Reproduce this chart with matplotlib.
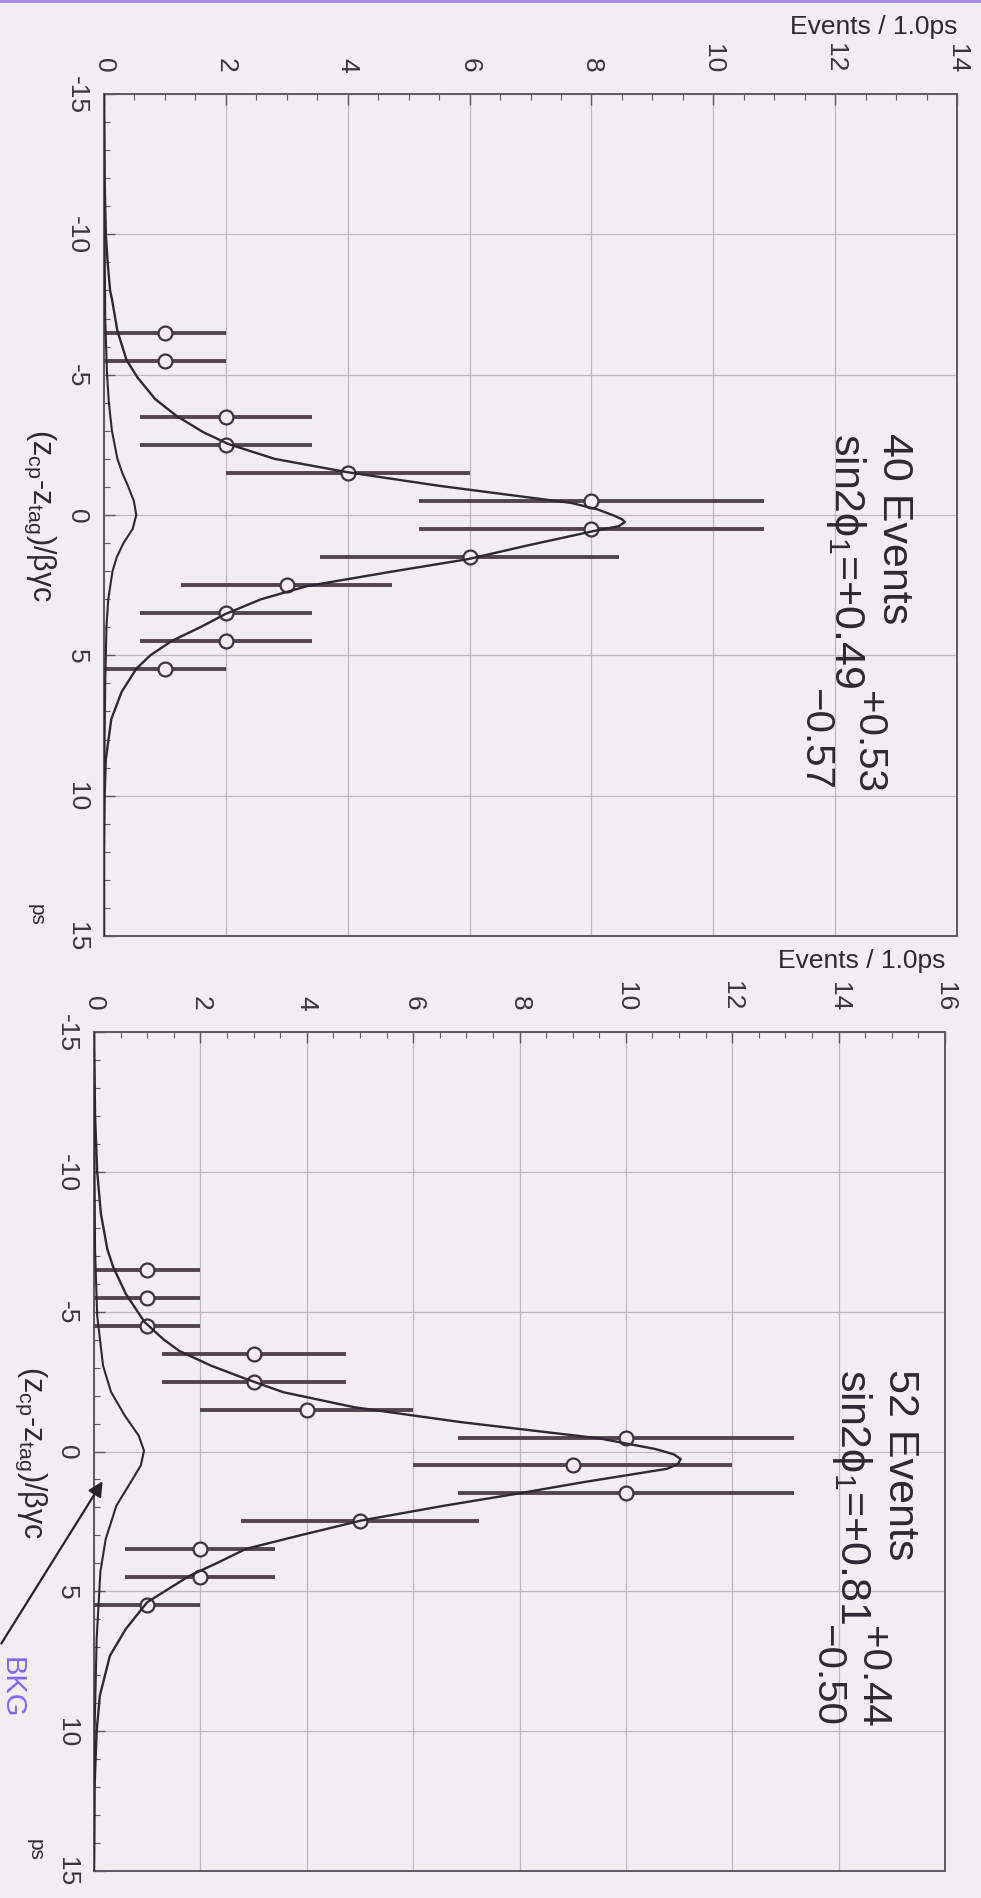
import matplotlib
matplotlib.use('Agg')
import matplotlib.pyplot as plt
from matplotlib.ticker import MultipleLocator

plt.rcParams['font.family'] = ['Liberation Sans', 'DejaVu Sans']
plt.rcParams['mathtext.fontset'] = 'custom'
plt.rcParams['mathtext.rm'] = 'Liberation Sans'
plt.rcParams['mathtext.it'] = 'Liberation Sans:italic'
plt.rcParams['mathtext.bf'] = 'Liberation Sans:bold'
plt.rcParams['axes.unicode_minus'] = False

# binned data, 1 ps bins
bins_40 = [-6.5, -5.5, -3.5, -2.5, -1.5, -0.5, 0.5, 1.5, 2.5, 3.5, 4.5, 5.5]
counts_40 = [1, 1, 2, 2, 4, 8, 8, 6, 3, 2, 2, 1]
errs_40 = [1.0, 1.0, 1.41, 1.41, 2.0, 2.83, 2.83, 2.45, 1.73, 1.41, 1.41, 1.0]

bins_52 = [-6.5, -5.5, -4.5, -3.5, -2.5, -1.5, -0.5, 0.5, 1.5, 2.5, 3.5, 4.5, 5.5]
counts_52 = [1, 1, 1, 3, 3, 4, 10, 9, 10, 5, 2, 2, 1]
errs_52 = [1.0, 1.0, 1.0, 1.73, 1.73, 2.0, 3.16, 3.0, 3.16, 2.24, 1.41, 1.41, 1.0]

# fit curves (signal + bkg) and bkg alone
fit_t_40 = [-15, -12, -10, -9, -8, -7.7, -6.56, -5.52, -4.9, -4.13, -3.53, -2.95, -2.53,
            -2.0, -1.53, -1.04, -0.43, -0.2, 0.03, 0.15, 0.25, 0.4, 0.57, 1.1, 1.57, 2.03,
            2.53, 3.0, 3.53, 4.0, 4.49, 5.0, 5.48, 6.3, 7.27, 8.7, 10, 12, 15]
fit_n_40 = [0.0, 0.01, 0.03, 0.06, 0.1, 0.13, 0.22, 0.37, 0.55, 0.84, 1.19, 1.63, 2.04,
            2.8, 3.98, 5.5, 7.67, 8.1, 8.38, 8.5, 8.55, 8.45, 8.04, 6.92, 5.98, 4.69,
            3.34, 2.58, 1.99, 1.58, 1.11, 0.76, 0.53, 0.29, 0.12, 0.03, 0.01, 0.0, 0.0]
bkg_t_40 = [-15, -10, -7, -5, -4, -3, -2, -1.5, -1, -0.5, 0, 0.5, 1, 1.5, 2, 3, 4, 6, 10, 15]
bkg_n_40 = [0.0, 0.01, 0.02, 0.05, 0.08, 0.13, 0.22, 0.3, 0.4, 0.49, 0.53, 0.47, 0.32,
            0.21, 0.14, 0.07, 0.04, 0.02, 0.0, 0.0]

fit_t_52 = [-15, -12, -10, -8.5, -7.24, -6.6, -5.63, -4.63, -4.02, -3.6, -3.07, -2.6,
            -2.12, -1.58, -1.05, -0.47, -0.09, 0.1, 0.27, 0.45, 0.62, 1.1, 1.52, 1.94,
            2.47, 3.01, 3.48, 4.0, 4.44, 5.39, 6.34, 7.3, 8.73, 10, 12, 15]
fit_n_52 = [0.0, 0.02, 0.06, 0.13, 0.25, 0.36, 0.6, 0.95, 1.3, 1.6, 2.2, 2.85,
            3.56, 4.9, 6.9, 9.5, 10.55, 10.9, 11.03, 10.98, 10.77, 9.19, 7.92, 6.58,
            5.02, 3.85, 2.86, 2.3, 1.8, 1.0, 0.6, 0.3, 0.11, 0.05, 0.01, 0.0]
bkg_t_52 = [-15, -10, -7.2, -4.86, -3.07, -2.13, -1.28, -0.57, -0.03, 0.5, 1.1, 1.94,
            3.13, 4.3, 6.7, 10, 15]
bkg_n_52 = [0.0, 0.01, 0.02, 0.06, 0.17, 0.32, 0.58, 0.84, 0.94, 0.88, 0.69, 0.42,
            0.22, 0.12, 0.05, 0.01, 0.0]

bg = '#f1edf1'
dark = '#3e3340'
bar_col = '#55444f'
grid_col = '#bdb8c1'
frame_col = '#5e5862'
ink = '#2e2830'

fig = plt.figure(figsize=(9.81, 18.99), dpi=100, facecolor=bg)
fig.add_artist(plt.Rectangle((0, 1 - 4 / 1899), 1, 4 / 1899, transform=fig.transFigure,
                             color='#a68ce9', lw=0))

ax1 = fig.add_axes([104 / 981, 1 - 937 / 1899, 853 / 981, 842 / 1899])
ax2 = fig.add_axes([94 / 981, 1 - 1872 / 1899, 851 / 981, 839 / 1899])


def draw_panel(ax, bins, counts, errs, fit_t, fit_n, bkg_t, bkg_n, nmax):
    ax.set_facecolor(bg)
    ax.errorbar(counts, bins, xerr=errs, fmt='o', ms=10, mfc=bg, mec=dark, mew=1.6,
                ecolor=bar_col, elinewidth=2.8, capsize=0, zorder=3)
    ax.plot(fit_n, fit_t, color=ink, lw=1.7, zorder=4)
    ax.plot(bkg_n, bkg_t, color=ink, lw=1.5, zorder=4)

    ax.set_xlim(0, nmax)
    ax.set_ylim(15, -15)
    ax.set_xticks(range(0, nmax + 1, 2))
    ax.set_yticks(range(-15, 16, 5))
    ax.xaxis.set_minor_locator(MultipleLocator(0.5))
    ax.yaxis.set_minor_locator(MultipleLocator(1))
    ax.xaxis.tick_top()
    ax.grid(True, which='major', color=grid_col, lw=0.9)
    ax.set_axisbelow(True)
    for s in ax.spines.values():
        s.set_color(frame_col)
        s.set_linewidth(1.4)
    ax.tick_params(which='both', direction='in', color=frame_col, labelcolor='#3a343c')
    ax.tick_params(which='major', length=8, width=1)
    ax.tick_params(which='minor', length=4, width=0.8)
    ax.tick_params(axis='x', which='major', labelrotation=-90, pad=16, labelsize=19)
    ax.tick_params(axis='y', which='major', labelrotation=-90, pad=11, labelsize=19)
    for lab in ax.get_yticklabels():
        lab.set_verticalalignment('center')


draw_panel(ax1, bins_40, counts_40, errs_40, fit_t_40, fit_n_40, bkg_t_40, bkg_n_40, 14)
draw_panel(ax2, bins_52, counts_52, errs_52, fit_t_52, fit_n_52, bkg_t_52, bkg_n_52, 16)

txt = dict(rotation=-90, rotation_mode='anchor', ha='left', va='baseline', color=ink)

ax1.text(12.78, -2.96, '40 Events', fontsize=31, **txt)
main1 = ax1.text(12.0, -2.96, r'sin2ϕ$_1$=+0.49', fontsize=31, **txt)
ax2.text(14.94, -3.0, '52 Events', fontsize=31, **txt)
main2 = ax2.text(14.04, -3.0, r'sin2ϕ$_1$=+0.81', fontsize=31, **txt)

# asymmetric errors go right after the central value
fig.canvas.draw()
for ax, main, n_up, n_lo, up, lo in ((ax1, main1, 12.36, 11.49, '+0.53', '−0.57'),
                                     (ax2, main2, 14.42, 13.57, '+0.44', '−0.50')):
    bb = main.get_window_extent()
    t_end = ax.transData.inverted().transform((bb.x0, bb.y0))[1]
    ax.text(n_up, t_end + 0.1, up, fontsize=29, **txt)
    ax.text(n_lo, t_end + 0.0, lo, fontsize=29, **txt)

xlab = r'(z$_{\mathrm{cp}}$-z$_{\mathrm{tag}}$)/βγc'
ax1.text(-1.05, 0, xlab, rotation=-90, ha='center', va='center', fontsize=22, color=ink)
ax2.text(-1.2, 0, xlab, rotation=-90, ha='center', va='center', fontsize=22, color=ink)
ax1.text(-1.12, 14.2, 'ps', rotation=-90, ha='center', va='center', fontsize=15, color=ink)
ax2.text(-1.1, 14.2, 'ps', rotation=-90, ha='center', va='center', fontsize=15, color=ink)

for ax, off in ((ax1, 49), (ax2, 52)):
    ax.annotate('Events / 1.0ps', xy=(1, 1), xycoords='axes fraction', xytext=(0, off),
                textcoords='offset points', ha='right', va='center', fontsize=19,
                color=ink)

# arrow pointing at the background component
ax2.annotate('', xy=(0.19, 0.98), xytext=(-1.77, 6.95),
             arrowprops=dict(arrowstyle='-|>', color='#2a2228', lw=1.6, mutation_scale=22),
             annotation_clip=False)
ax2.text(-1.55, 8.4, 'BKG', rotation=-90, ha='center', va='center', fontsize=21,
         color='#7f66f2')

fig.savefig('out.png', dpi=100, facecolor=bg)
